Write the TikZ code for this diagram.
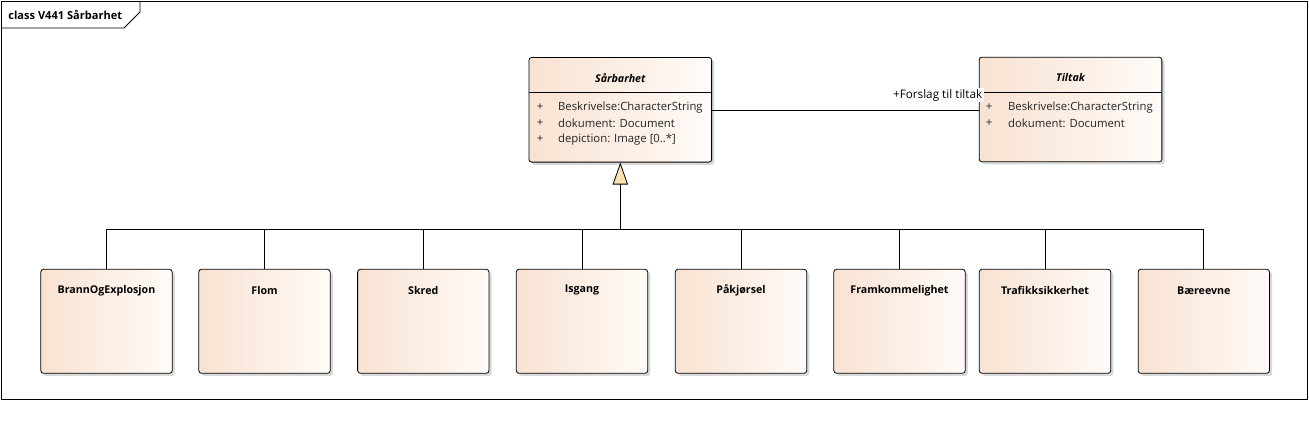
\documentclass[tikz,border=0pt]{standalone}
\usepackage{fontspec}
\setmainfont{Open Sans}
\usetikzlibrary{positioning,shadows,arrows.meta}

\definecolor{boxleft}{RGB}{248,226,210}
\definecolor{boxright}{RGB}{255,251,248}
\definecolor{genfill}{RGB}{251,224,178}

\tikzset{
  umlbox/.style={draw, rounded corners=2pt, inner sep=0pt,
    left color=boxleft, right color=boxright,
    drop shadow={shadow xshift=2pt, shadow yshift=-2pt, fill=black!15, opacity=1}},
  classbox/.style={umlbox, minimum width=137pt, minimum height=78.5pt},
  subbox/.style={umlbox, minimum width=98.5pt, minimum height=78pt},
  boxname/.style={font=\fontsize{8}{9}\selectfont\bfseries, inner sep=0pt},
  classname/.style={font=\fontsize{8}{9}\selectfont\bfseries\itshape, inner sep=0pt},
  attr/.style={font=\fontsize{8.5}{9}\selectfont, anchor=west, inner sep=0pt, text=black!85},
}

\begin{document}
\begin{tikzpicture}[x=0.75pt,y=-0.75pt,thick,line width=0.6pt]
    \useasboundingbox (0,0) rectangle (1309,431);
    % frame
    \draw (1,1) rectangle (1307,399);
    \draw (1,28) -- (124,28) -- (140,12) -- (140,1);
    \node[boxname, font=\fontsize{8.3}{9}\selectfont\bfseries, anchor=west] (frametitle) at (8,15) {class V441 Sårbarhet};

    % classes
    \node[classbox] (sarbarhet) at (620.3,109.8) {};
    \node[classname] (sarname) at (620.3,77.7) {Sårbarhet};
    \draw (sarbarhet.west |- 0,92.7) -- (sarbarhet.east |- 0,92.7);
    \node[attr, anchor=center] (sp1) at (540,107.3) {+};
    \node[attr] (sa1) at (557.7,107.3) {Beskrivelse:CharacterString};
    \node[attr, anchor=center] (sp2) at (540,123.3) {+};
    \node[attr] (sa2) at (557.7,123.3) {dokument: Document};
    \node[attr, anchor=center] (sp3) at (540,139.3) {+};
    \node[attr] (sa3) at (557.7,139.3) {depiction: Image [0..*]};

    \node[classbox] (tiltak) at (1070.5,109.5) {};
    \node[classname] (tilname) at (1070.5,77.7) {Tiltak};
    \draw (tiltak.west |- 0,92.7) -- (tiltak.east |- 0,92.7);
    \node[attr, anchor=center] (tp1) at (989,107.3) {+};
    \node[attr] (ta1) at (1007.7,107.3) {Beskrivelse:CharacterString};
    \node[attr, anchor=center] (tp2) at (989,123.3) {+};
    \node[attr] (ta2) at (1007.7,123.3) {dokument: Document};

    % association
    \draw (sarbarhet.east |- 0,110.3) -- (tiltak.west |- 0,110.3);
    \node[attr, anchor=east, fill=white, inner sep=1pt, text=black, font=\fontsize{8.8}{9}\selectfont] (rolle) at (984,95) {+Forslag til tiltak};

    % subclasses
    \foreach \n/\x/\t in {brann/106.5/BrannOgExplosjon, flom/264.5/Flom, skred/423.3/Skred,
        isgang/582/Isgang, pakjorsel/741/Påkjørsel, fram/899.5/Framkommelighet,
        trafikk/1045/Trafikksikkerhet, baere/1203.8/Bæreevne}
    {
        \node[subbox] (\n) at (\x,321.3) {};
        \node[boxname] (\n name) at (\x,290.3) {\t};
    }

    % generalization
    \coordinate (bus) at (620.3,229.3);
    \draw[-{Triangle[width=11.5pt, length=16.5pt, fill=genfill]}] (bus) -- (sarbarhet.south);
    \foreach \n in {brann,flom,skred,isgang,pakjorsel,fram,trafikk,baere}
        \draw (\n.north) |- (bus);
\end{tikzpicture}
\end{document}
